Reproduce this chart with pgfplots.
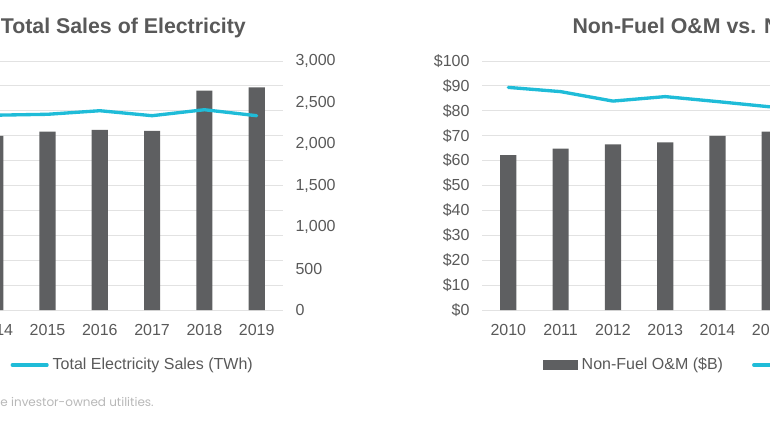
\documentclass[border=0pt]{standalone}
\usepackage{fontspec}
\setmainfont{Liberation Sans}
\newfontfamily\notefont{Poppins}
\usepackage{pgfplots}
\usepackage{pgfplotstable}
\pgfplotsset{compat=1.18}

\definecolor{barcol}{HTML}{5E5F61}
\definecolor{linecol}{HTML}{1FBCD8}
\definecolor{txtcol}{HTML}{595959}
\definecolor{gridcol}{HTML}{E2E2E2}
\definecolor{notecol}{HTML}{B8B8B8}

% non-fuel O&M, $B (same series in both panels)
\pgfplotstableread{
idx year om
0 2010 62.2
1 2011 64.8
2 2012 66.5
3 2013 67.3
4 2014 69.9
5 2015 71.6
6 2016 72.3
7 2017 71.9
8 2018 88.1
9 2019 89.4
}\omdata

% total electricity sales, TWh (visible years only)
\pgfplotstableread{
idx year twh
4 2014 2347
5 2015 2358
6 2016 2401
7 2017 2341
8 2018 2413
9 2019 2341
}\twhdata

% right panel line, $ (visible years only)
\pgfplotstableread{
idx year cost
0 2010 89.4
1 2011 87.7
2 2012 83.9
3 2013 85.7
4 2014 83.7
5 2015 81.6
}\costdata

\pgfplotsset{
  panel/.style={
    scale only axis, width=392.1pt, height=186.75pt,
    anchor=south west,
    xmin=-0.5, xmax=9.5,
    xtick={0,...,9}, xticklabels={2010,2011,2012,2013,2014,2015,2016,2017,2018,2019},
    ymin=0, ymax=100, ytick={0,10,...,100},
    axis line style={draw=none}, tick style={draw=none},
    ymajorgrids, grid style={gridcol, line width=0.75pt},
    tick label style={font=\fontsize{12}{14}\selectfont, text=txtcol},
    /pgf/number format/assume math mode=true,
    xticklabel shift=7pt, yticklabel shift=6pt,
    legend style={draw=none, fill=none, inner sep=0pt, outer sep=0pt,
      nodes={inner sep=0pt}, font=\fontsize{12}{14}\selectfont, text=txtcol,
      legend columns=2,
      /tikz/every odd column/.append style={column sep=3pt},
      /tikz/every even column/.append style={column sep=21.75pt}},
  },
  barleg/.style={legend image code/.code={\fill[barcol] (0pt,-3.4pt) rectangle (25.8pt,3.4pt);}},
  lineleg/.style={legend image code/.code={\draw[linecol, line width=2.5pt, line cap=round] (1.2pt,0pt) -- (27.3pt,0pt);}},
}

\begin{document}
\begin{tikzpicture}
\useasboundingbox (0,0) rectangle (577.5pt,324.75pt);
\clip (0,0) rectangle (577.5pt,324.75pt);

% left panel: bars on the (hidden) left axis
\begin{axis}[panel, at={(-180pt,92.25pt)},
  yticklabel={\$\pgfmathprintnumber{\tick}}]
\addplot[ybar, bar width=0.31, fill=barcol, draw=none] table[x=idx, y=om] {\omdata};
\end{axis}

% left panel: sales line on the right axis
\begin{axis}[panel, at={(-180pt,92.25pt)},
  ymin=0, ymax=3000, ytick={0,500,...,3000}, ymajorgrids=false,
  axis y line*=right, hide x axis, scaled y ticks=false,
  /pgf/number format/1000 sep={,},
  legend style={at={(axis description cs:0.079,-0.2209)}, anchor=west}]
\addlegendimage{barleg}
\addlegendentry{Non-Fuel O\&M (\$B)}
\addplot[linecol, line width=2.5pt, line join=round, line cap=round, lineleg]
  table[x=idx, y=twh] {\twhdata};
\addlegendentry{Total Electricity Sales (TWh)}
\end{axis}

% right panel
\begin{axis}[panel, at={(361.65pt,92.25pt)},
  yticklabel={\$\pgfmathprintnumber{\tick}},
  legend style={at={(axis description cs:0.1169,-0.2209)}, anchor=west}]
\addplot[ybar, bar width=0.31, fill=barcol, draw=none, barleg] table[x=idx, y=om] {\omdata};
\addlegendentry{Non-Fuel O\&M (\$B)}
\addplot[linecol, line width=2.5pt, line join=round, line cap=round, lineleg]
  table[x=idx, y=cost] {\costdata};
\addlegendentry{Non-Fuel O\&M per MWh (\$)}
\end{axis}

\node[anchor=base west, inner sep=0pt, font=\bfseries\fontsize{16}{19}\selectfont, text=txtcol]
  at (0.4pt,299.25pt) {Total Sales of Electricity};
\node[anchor=base west, inner sep=0pt, font=\bfseries\fontsize{16}{19}\selectfont, text=txtcol]
  at (429.2pt,299.25pt) {Non-Fuel O\&M vs. Non-Fuel O\&M per MWh};
\node[anchor=base east, inner sep=0pt, font=\notefont\fontsize{9}{11}\selectfont, text=notecol]
  at (115.5pt,19.9pt) {the investor-owned utilities.};
\end{tikzpicture}
\end{document}
